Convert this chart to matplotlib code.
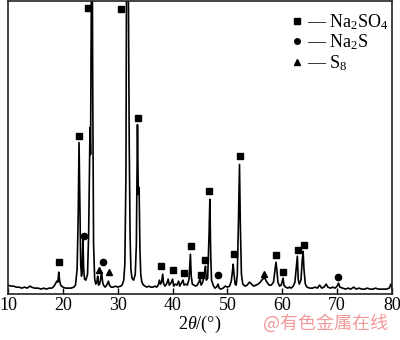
import matplotlib
matplotlib.use('Agg')
import matplotlib.pyplot as plt
from matplotlib.lines import Line2D

plt.rcParams['font.family'] = ['Liberation Serif', 'DejaVu Serif']
plt.rcParams['mathtext.fontset'] = 'custom'
plt.rcParams['mathtext.rm'] = 'Liberation Serif'
plt.rcParams['mathtext.it'] = 'Liberation Serif:italic'

# XRD pattern (2theta in degrees, intensity in arbitrary units)
two_theta = [10.0, 10.5, 11.0, 11.5, 12.0, 12.5, 13.0, 13.5, 14.0, 14.3, 14.8, 15.5, 16.0, 16.5,
             17.0, 17.5, 18.0, 18.4, 18.7, 18.9, 19.1, 19.25, 19.4, 19.6, 20.0, 20.5, 21.0, 21.5,
             22.0, 22.3, 22.6, 22.8, 22.95, 23.1, 23.25, 23.4, 23.5, 23.65, 23.8, 23.95, 24.2, 24.5,
             24.7, 24.85, 24.95, 25.05, 25.15, 25.3, 25.45, 25.6, 25.8, 26.0, 26.2, 26.35, 26.5,
             26.7, 26.85, 27.05, 27.25, 27.4, 27.7, 28.0, 28.3, 28.5, 28.8, 29.2, 29.6, 30.0, 30.5,
             30.8, 31.1, 31.3, 31.5, 31.65, 31.8, 31.95, 32.1, 32.25, 32.4, 32.6, 32.9, 33.2, 33.4,
             33.6, 33.75, 33.9, 34.05, 34.2, 34.4, 34.7, 35.0, 35.3, 35.7, 36.0, 36.4, 36.8, 37.1,
             37.4, 37.6, 37.8, 38.0, 38.2, 38.35, 38.6, 38.9, 39.2, 39.4, 39.7, 40.0, 40.2, 40.5,
             40.8, 41.1, 41.3, 41.6, 41.9, 42.1, 42.4, 42.7, 43.0, 43.25, 43.4, 43.6, 43.9, 44.2,
             44.5, 44.8, 45.0, 45.2, 45.5, 45.8, 46.0, 46.15, 46.4, 46.65, 46.8, 46.95, 47.1, 47.4,
             47.7, 48.0, 48.3, 48.5, 48.8, 49.2, 49.6, 50.0, 50.4, 50.7, 50.9, 51.05, 51.2, 51.4,
             51.6, 51.8, 52.0, 52.2, 52.35, 52.55, 52.8, 53.2, 53.6, 54.0, 54.4, 54.8, 55.2, 55.6,
             56.0, 56.4, 56.8, 57.2, 57.6, 58.0, 58.4, 58.7, 58.85, 59.0, 59.2, 59.5, 59.8, 60.0,
             60.15, 60.3, 60.6, 61.0, 61.3, 61.6, 62.0, 62.3, 62.6, 62.75, 62.9, 63.1, 63.4, 63.65,
             63.8, 63.95, 64.2, 64.5, 65.0, 65.5, 66.0, 66.4, 66.8, 67.2, 67.6, 68.0, 68.3, 68.8,
             69.2, 69.6, 70.0, 70.25, 70.5, 71.0, 71.5, 72.0, 72.5, 73.0, 73.5, 74.0, 74.5, 75.0,
             75.5, 76.0, 76.5, 77.0, 77.5, 78.0, 78.5, 79.0, 79.5, 79.8, 80.0]
intensity = [9, 8, 8, 7, 7, 6, 7, 6, 8, 7, 6, 6, 5, 6,
             5, 6, 6, 8, 11, 13, 12, 22, 14, 9, 7, 6, 6, 6,
             7, 9, 25, 80, 152, 90, 30, 18, 22, 55, 25, 15, 14, 20,
             60, 120, 167, 140, 250, 430, 200, 50, 15, 10, 12, 18, 9,
             10, 14, 22, 12, 9, 7, 9, 13, 9, 7, 7, 8, 7, 8,
             9, 14, 30, 120, 400, 430, 300, 150, 60, 25, 16, 14, 20, 50,
             170, 100, 107, 45, 20, 12, 9, 8, 7, 8, 7, 7, 8, 7,
             9, 14, 10, 12, 20, 11, 8, 10, 15, 9, 11, 15, 8, 10,
             9, 13, 8, 11, 14, 9, 10, 9, 15, 40, 18, 10, 9, 8,
             9, 12, 15, 9, 12, 20, 28, 14, 16, 60, 95, 40, 14, 9,
             6, 7, 10, 6, 5, 6, 8, 7, 8, 13, 22, 30, 20, 10,
             9, 20, 70, 130, 70, 20, 10, 8, 9, 12, 10, 8, 9, 10,
             12, 15, 16, 12, 9, 9, 12, 25, 32, 25, 12, 8, 9, 13,
             16, 9, 7, 6, 7, 6, 8, 12, 30, 38, 15, 10, 14, 35,
             43, 25, 10, 7, 6, 6, 7, 6, 9, 6, 7, 10, 7, 6,
             7, 6, 8, 11, 7, 6, 5, 6, 5, 7, 5, 6, 5, 5,
             6, 5, 5, 6, 5, 5, 5, 5, 6, 10, 6]

# phase markers
na2so4_x = [19.3, 22.9, 24.5, 30.6, 33.7, 37.8, 40.0, 42.0, 43.3, 45.1, 46.0, 46.7,
            51.2, 52.3, 58.8, 60.2, 62.8, 63.9]
na2so4_y = [32, 159, 287, 286, 177, 28, 24, 21, 48, 19, 34, 103,
            40, 139, 39, 22, 44, 49]
na2s_x = [23.9, 27.4, 48.3, 70.2]
na2s_y = [58, 32, 19, 17]
s8_x = [26.6, 28.4, 56.7]
s8_y = [24, 22, 20]

labels = ['— Na$_2$SO$_4$', '— Na$_2$S', '— S$_8$']

fig = plt.figure(figsize=(4.0, 3.4), dpi=100)
ax = fig.add_axes([0.02, 0.135, 0.96, 0.862])

ax.plot(two_theta, intensity, color='black', lw=1.2)
ax.plot(na2so4_x, na2so4_y, 's', color='black', ms=4.5, ls='none')
ax.plot(na2s_x, na2s_y, 'o', color='black', ms=4.5, ls='none')
ax.plot(s8_x, s8_y, '^', color='black', ms=4.5, ls='none')

ax.set_xlim(10, 80)
ax.set_ylim(0, 294)
ax.set_yticks([])
ax.set_xticks(range(10, 81, 10))
ax.tick_params(axis='x', direction='in', length=4, width=1, labelsize=13, pad=2)
for s in ax.spines.values():
    s.set_linewidth(1.2)
    s.set_color('#222222')

ax.set_xlabel('2$\\mathit{\\theta}$/(°)', fontsize=13, labelpad=0)

handles = [Line2D([], [], marker='s', color='black', ls='none', ms=4),
           Line2D([], [], marker='o', color='black', ls='none', ms=4),
           Line2D([], [], marker='^', color='black', ls='none', ms=4)]
ax.legend(handles, labels, loc='upper right', frameon=False, fontsize=13,
          handlelength=0.5, handletextpad=0.3, labelspacing=0.05,
          borderaxespad=0.2, bbox_to_anchor=(1.02, 1.0))

fig.text(0.97, 0.05, '@有色金属在线', color='#f29a9a', fontsize=13, ha='right', va='center',
         family=['Noto Sans CJK SC', 'DejaVu Sans'])

fig.savefig('out.png', dpi=100)
